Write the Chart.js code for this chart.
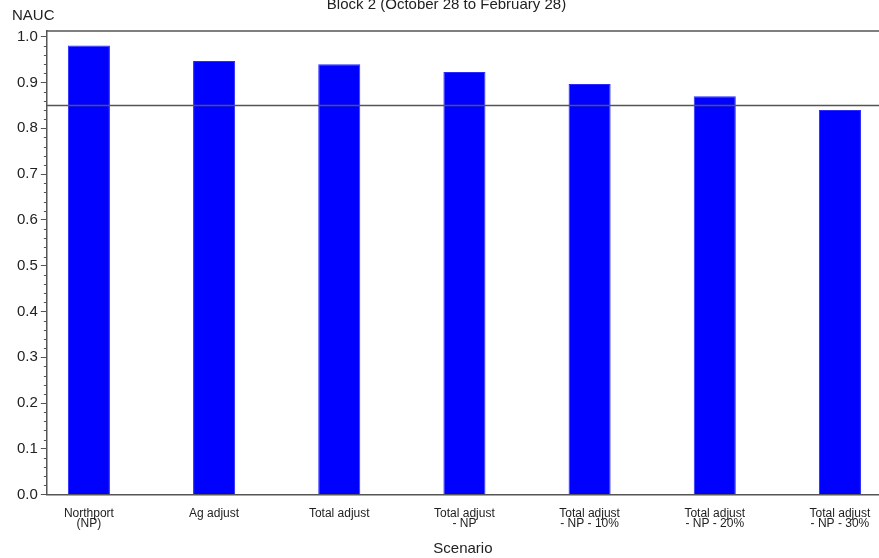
<!DOCTYPE html>
<html>
<head>
<meta charset="utf-8">
<script src="https://cdn.jsdelivr.net/npm/chart.js@4"></script>
<style>
  html, body { margin: 0; padding: 0; background: #fff; }
  #wrap { width: 879px; height: 558px; }
</style>
</head>
<body>
<div id="wrap"><canvas id="chart"></canvas></div>
<script>
const scenarios = [
    ['Northport', '(NP)'],
    'Ag adjust',
    'Total adjust',
    ['Total adjust', '- NP'],
    ['Total adjust', '- NP - 10%'],
    ['Total adjust', '- NP - 20%'],
    ['Total adjust', '- NP - 30%']
];
const nauc = [0.981, 0.947, 0.940, 0.923, 0.897, 0.870, 0.840];
const yTicks = [0, 0.1, 0.2, 0.3, 0.4, 0.5, 0.6, 0.7, 0.8, 0.9, 1.0];
const refValue = 0.85;

const axisColor = '#555';
const textColor = '#222';

// lines the library has no option for: frame top, reference line, minor ticks, NAUC label
const extras = {
    id: 'extras',
    afterDraw(chart) {
        const ctx = chart.ctx;
        const area = chart.chartArea;
        const y = chart.scales.y;
        ctx.save();
        ctx.strokeStyle = axisColor;
        ctx.lineWidth = 1.5;
        ctx.beginPath();
        ctx.moveTo(area.left, area.top);
        ctx.lineTo(area.right, area.top);
        const ry = y.getPixelForValue(refValue);
        ctx.moveTo(area.left, ry);
        ctx.lineTo(area.right, ry);
        ctx.stroke();

        ctx.lineWidth = 1;
        ctx.beginPath();
        for (let i = 1; i < 50; i++) {
            if (i % 5 === 0) continue;
            const py = Math.round(y.getPixelForValue(i * 0.02)) + 0.5;
            ctx.moveTo(area.left - 3, py);
            ctx.lineTo(area.left, py);
        }
        ctx.stroke();

        ctx.fillStyle = textColor;
        ctx.font = '15px "Liberation Sans", Arial, sans-serif';
        ctx.textBaseline = 'middle';
        ctx.textAlign = 'left';
        ctx.fillText('NAUC', 12, 16);
        ctx.restore();
    }
};

new Chart(document.getElementById('chart'), {
    type: 'bar',
    data: {
        datasets: [{
            label: 'NAUC',
            data: nauc.map((v, i) => ({ x: i, y: v })),
            backgroundColor: '#0000ff',
            borderColor: '#2a2aff',
            borderWidth: 1,
            barPercentage: 0.336,
            categoryPercentage: 1
        }]
    },
    options: {
        responsive: true,
        maintainAspectRatio: false,
        animation: false,
        layout: { padding: { left: 14, right: 0, top: 0, bottom: 0 } },
        plugins: {
            legend: { display: false },
            tooltip: { enabled: false },
            title: {
                display: true,
                text: 'Block 2 (October 28 to February 28)',
                color: textColor,
                font: { family: '"Liberation Sans", Arial, sans-serif', size: 15, weight: 'normal' },
                padding: { top: -4, bottom: 17 }
            }
        },
        scales: {
            x: {
                type: 'linear',
                offset: false,
                min: -0.336,
                max: 6.312,
                afterBuildTicks: scale => {
                    scale.ticks = scenarios.map((s, i) => ({ value: i }));
                },
                grid: { display: false },
                border: { display: true, color: axisColor, width: 1.5 },
                ticks: {
                    autoSkip: false,
                    maxRotation: 0,
                    padding: 6,
                    color: textColor,
                    font: { family: '"Liberation Sans", Arial, sans-serif', size: 12, lineHeight: 0.85 },
                    callback: v => scenarios[v]
                },
                title: {
                    display: true,
                    text: 'Scenario',
                    color: textColor,
                    font: { family: '"Liberation Sans", Arial, sans-serif', size: 15 },
                    padding: { top: 5, bottom: 0 }
                }
            },
            y: {
                min: 0,
                max: 1.0125,
                afterBuildTicks: scale => {
                    scale.ticks = yTicks.map(v => ({ value: v }));
                },
                grid: { drawOnChartArea: false, drawTicks: true, tickLength: 6, color: axisColor },
                border: { display: true, color: axisColor, width: 1.5 },
                ticks: {
                    padding: 3,
                    color: textColor,
                    font: { family: '"Liberation Sans", Arial, sans-serif', size: 15 },
                    callback: v => v.toFixed(1)
                }
            }
        }
    },
    plugins: [extras]
});
</script>
</body>
</html>
